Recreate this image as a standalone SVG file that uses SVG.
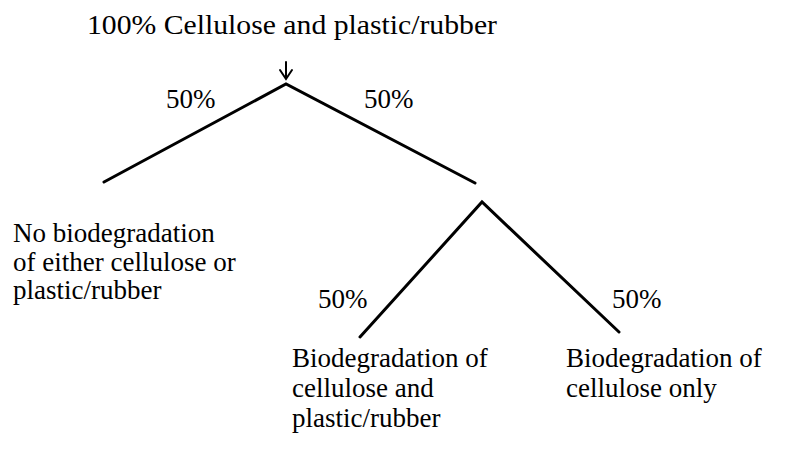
<svg xmlns="http://www.w3.org/2000/svg" width="790" height="451" viewBox="0 0 790 451">
<style>
text { font-family: "Liberation Serif", "Times New Roman", serif; font-size: 27px; fill: #000; }
.title { font-size: 28px; }
.edge { stroke: #000; stroke-width: 3; stroke-linecap: round; fill: none; }
.arr { stroke: #000; stroke-width: 2; fill: none; stroke-linecap: round; }
</style>
<rect width="790" height="451" fill="#fff"/>
<g id="root">
<text class="title" x="87" y="34" textLength="410" lengthAdjust="spacingAndGlyphs">100% Cellulose and plastic/rubber</text>
</g>
<g id="no-bio">
<text x="13" y="242">No biodegradation</text>
<text x="13" y="271">of either cellulose or</text>
<text x="13" y="299">plastic/rubber</text>
</g>
<g id="bio-both">
<text x="292" y="367">Biodegradation of</text>
<text x="292" y="397">cellulose and</text>
<text x="292" y="427">plastic/rubber</text>
</g>
<g id="bio-cell">
<text x="566" y="367">Biodegradation of</text>
<text x="566" y="397">cellulose only</text>
</g>
<g id="connectors">
<path class="arr" d="M286 62 V78 M280 70 L286 79 L292 70"/>
<path class="edge" d="M104 182 L286 84 L475 183"/>
<path class="edge" d="M360 337 L482 202 L619 332"/>
<text x="166" y="108">50%</text>
<text x="364" y="108">50%</text>
<text x="318" y="308">50%</text>
<text x="612" y="308">50%</text>
</g>
</svg>
